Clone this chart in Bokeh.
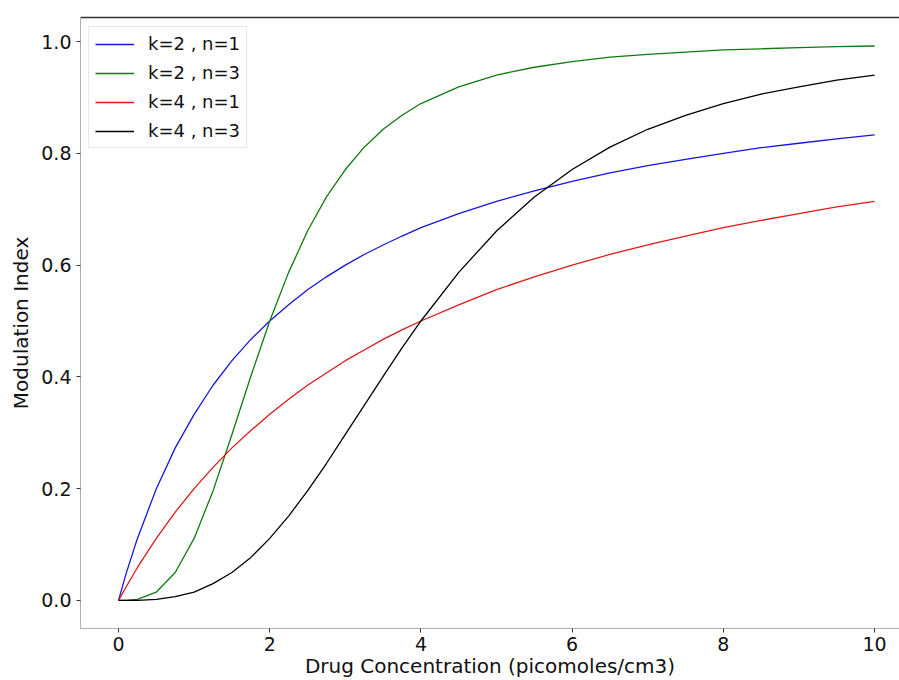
from bokeh.plotting import figure
from bokeh.models import Range1d, LinearAxis, FixedTicker, Legend, LegendItem, ColumnDataSource
from bokeh.embed import file_html
from bokeh.resources import INLINE

# Drug concentration (picomoles/cm3)
conc = [0, 0.1, 0.25, 0.5, 0.75, 1, 1.25, 1.5, 1.75, 2, 2.25, 2.5, 2.75, 3, 3.25, 3.5, 3.75, 4,
        4.5, 5, 5.5, 6, 6.5, 7, 7.5, 8, 8.5, 9, 9.5, 10]

# Modulation index
k2_n1 = [0, 0.048, 0.111, 0.2, 0.273, 0.333, 0.385, 0.429, 0.467, 0.5, 0.529, 0.556, 0.579, 0.6,
         0.619, 0.636, 0.652, 0.667, 0.692, 0.714, 0.733, 0.75, 0.765, 0.778, 0.789, 0.8, 0.81,
         0.818, 0.826, 0.833]
k2_n3 = [0, 0.0001, 0.002, 0.015, 0.05, 0.111, 0.196, 0.297, 0.401, 0.5, 0.587, 0.661, 0.722,
         0.771, 0.811, 0.843, 0.868, 0.889, 0.919, 0.94, 0.954, 0.964, 0.972, 0.977, 0.981,
         0.985, 0.987, 0.989, 0.991, 0.992]
k4_n1 = [0, 0.024, 0.059, 0.111, 0.158, 0.2, 0.238, 0.273, 0.304, 0.333, 0.36, 0.385, 0.407,
         0.429, 0.448, 0.467, 0.484, 0.5, 0.529, 0.556, 0.579, 0.6, 0.619, 0.636, 0.652, 0.667,
         0.68, 0.692, 0.704, 0.714]
k4_n3 = [0, 0.0, 0.0002, 0.002, 0.007, 0.015, 0.03, 0.05, 0.077, 0.111, 0.151, 0.196, 0.245,
         0.297, 0.349, 0.401, 0.452, 0.5, 0.587, 0.661, 0.722, 0.771, 0.811, 0.843, 0.868,
         0.889, 0.906, 0.919, 0.931, 0.94]

labels = ["k=2 , n=1", "k=2 , n=3", "k=4 , n=1", "k=4 , n=3"]
colors = ["#1515e0", "#107a10", "#e01818", "#000000"]
series = [k2_n1, k2_n3, k4_n1, k4_n3]

x_ticks = [0, 2, 4, 6, 8, 10]
y_ticks = [0.0, 0.2, 0.4, 0.6, 0.8, 1.0]

FONT = "DejaVu Sans"

p = figure(width=899, height=680, output_backend="svg", toolbar_location=None,
           x_range=Range1d(-0.503, 10.33), y_range=Range1d(-0.0502, 1.043),
           min_border_left=80, min_border_right=0, min_border_top=17, min_border_bottom=51)
p.outline_line_color = None
p.xgrid.visible = False
p.ygrid.visible = False
p.background_fill_color = "white"
p.border_fill_color = "white"

xax = p.below[0]
yax = p.left[0]

# top spine
top = LinearAxis(ticker=FixedTicker(ticks=[]), major_tick_line_color=None,
                 minor_tick_line_color=None, major_label_text_font_size="0px",
                 axis_line_color="#333333", axis_line_width=1.5)
p.add_layout(top, "above")

for ax, ticks, lab in [(xax, x_ticks, "Drug Concentration (picomoles/cm3)"),
                       (yax, y_ticks, "Modulation Index")]:
    ax.ticker = FixedTicker(ticks=ticks)
    ax.axis_label = lab
    ax.axis_label_text_font = FONT
    ax.axis_label_text_font_size = "20px"
    ax.axis_label_text_font_style = "normal"
    ax.axis_label_text_color = "#111111"
    ax.major_label_text_font = FONT
    ax.major_label_text_font_size = "19px"
    ax.major_label_text_color = "#111111"
    ax.axis_line_color = "#b0b0b0"
    ax.major_tick_line_color = "#333333"
    ax.major_tick_out = 4
    ax.major_tick_in = 0
    ax.minor_tick_line_color = None

xax.major_label_overrides = {t: str(t) for t in x_ticks}
yax.major_label_overrides = {t: f"{t:.1f}" for t in y_ticks}
xax.axis_label_standoff = 0
xax.major_label_standoff = 4
yax.axis_label_standoff = 5

items = []
for lab, col, ys in zip(labels, colors, series):
    src = ColumnDataSource(dict(x=conc, y=ys))
    r = p.line("x", "y", source=src, line_color=col, line_width=1.3)
    items.append(LegendItem(label=lab, renderers=[r]))

legend = Legend(items=items, location=(8, 480), margin=0, padding=6, spacing=8,
                glyph_width=39, glyph_height=20, label_height=20, label_standoff=14,
                label_text_font=FONT, label_text_font_size="18px", label_text_color="#111111",
                border_line_color="#d0d0d0", border_line_width=1,
                background_fill_color="white", background_fill_alpha=0.9)
p.add_layout(legend, "center")

open("out.html", "w").write(file_html(p, INLINE))
